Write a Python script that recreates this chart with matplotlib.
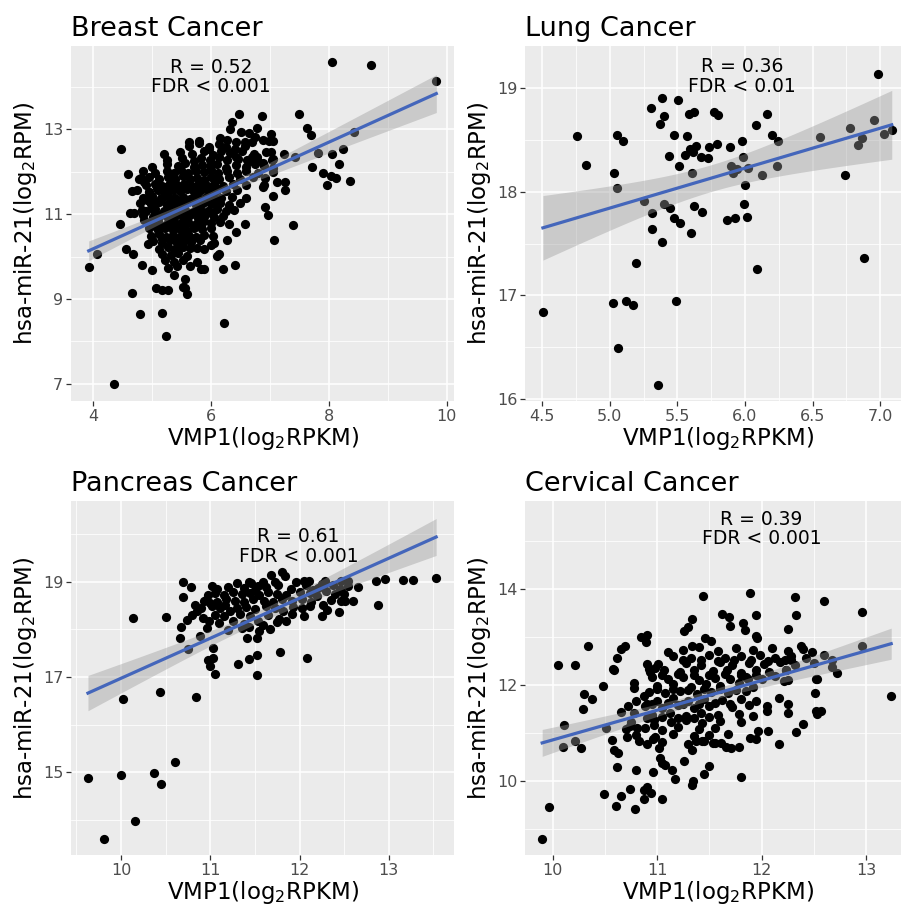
import numpy as np
import matplotlib
matplotlib.use("Agg")
import matplotlib.pyplot as plt
from matplotlib.ticker import MultipleLocator, FormatStrFormatter

# ---- data (x = VMP1 log2RPKM, y = hsa-miR-21 log2RPM) ----
breast_points = [
    (8.06, 14.58), (8.72, 14.51), (9.82, 14.15), (7.50, 13.36), (7.63, 13.04), (7.69, 12.87),
    (8.43, 12.93), (8.24, 12.54), (8.05, 12.43), (7.82, 12.44), (7.43, 12.36), (7.24, 12.41),
    (8.17, 12.18), (7.72, 12.11), (7.90, 11.97), (8.04, 11.91), (8.12, 11.85), (7.97, 11.69),
    (8.36, 11.78), (7.40, 10.74), (4.48, 12.53), (4.60, 11.94), (4.67, 11.55), (5.21, 12.43),
    (4.81, 11.86), (6.47, 13.37), (6.87, 13.31), (6.35, 13.17), (6.32, 13.00), (6.51, 12.95),
    (6.78, 13.03), (7.02, 12.90), (7.05, 12.73), (7.07, 10.39), (6.91, 11.17), (6.97, 10.97),
    (6.58, 10.77), (6.43, 10.57), (6.41, 9.79), (6.27, 10.38), (6.21, 9.70), (6.22, 8.43),
    (3.93, 9.75), (4.07, 10.07), (4.56, 10.18), (4.68, 10.07), (4.46, 10.76), (4.63, 11.02),
    (4.94, 10.29), (4.83, 9.79), (5.01, 9.68), (4.66, 9.13), (5.07, 9.26), (5.18, 9.21),
    (5.27, 9.22), (4.80, 8.64), (5.18, 8.67), (5.24, 8.13), (4.36, 6.98), (5.56, 9.26),
    (5.59, 9.11), (5.53, 9.29), (5.57, 9.47), (5.37, 9.56), (5.83, 9.70), (5.88, 9.71),
    (5.64, 9.78), (5.76, 9.88), (6.10, 10.01), (6.13, 10.07), (6.06, 10.31), (5.88, 10.18),
    (6.00, 10.28), (5.63, 12.71), (5.80, 12.73), (5.97, 12.59), (6.16, 12.80), (6.27, 12.76),
    (6.41, 12.54), (6.58, 12.71), (6.64, 12.91), (6.69, 12.71), (6.75, 12.83), (6.89, 12.75),
    (6.98, 12.73), (6.42, 12.36), (6.61, 12.28), (6.69, 12.36), (6.78, 12.28), (6.89, 12.20),
    (7.02, 12.47), (7.03, 12.29), (7.06, 12.08), (6.92, 11.85), (7.12, 11.75), (7.26, 11.77),
    (7.26, 11.57), (7.05, 11.43), (6.89, 11.65), (4.86, 11.77), (4.96, 11.53), (5.08, 11.65),
    (4.92, 11.34), (5.00, 11.14), (4.83, 11.10), (4.69, 11.02), (4.86, 10.87),
    # dense core
    (5.63, 12.62), (5.80, 12.68), (5.96, 12.55), (6.13, 12.66), (6.26, 12.58), (6.43, 12.70), (6.58, 12.60),
    (5.48, 12.47), (5.68, 12.42), (5.88, 12.50), (6.03, 12.40), (6.18, 12.48), (6.33, 12.44), (6.53, 12.50),
    (6.73, 12.43), (6.93, 12.47),
    (5.26, 12.28), (5.51, 12.33), (5.71, 12.26), (5.84, 12.32), (5.98, 12.29), (6.14, 12.35), (6.28, 12.27),
    (6.46, 12.31), (6.64, 12.25), (6.78, 12.34), (7.06, 12.30),
    (5.00, 12.12), (5.25, 12.18), (5.45, 12.13), (5.57, 12.20), (5.71, 12.11), (5.85, 12.17), (5.98, 12.14),
    (6.10, 12.19), (6.25, 12.10), (6.43, 12.16), (6.60, 12.12), (6.75, 12.18), (6.90, 12.13),
    (4.85, 12.02), (5.05, 11.97), (5.25, 12.03), (5.38, 11.98), (5.50, 12.04), (5.62, 11.96), (5.75, 12.02),
    (5.88, 11.99), (6.00, 12.05), (6.12, 11.97), (6.28, 12.01), (6.45, 11.98), (6.60, 12.03), (6.80, 11.96),
    (7.05, 12.00),
    (4.78, 11.83), (4.95, 11.88), (5.12, 11.84), (5.28, 11.87), (5.40, 11.82), (5.52, 11.89), (5.64, 11.84),
    (5.76, 11.86), (5.88, 11.81), (6.00, 11.88), (6.14, 11.83), (6.30, 11.87), (6.50, 11.84), (6.72, 11.88),
    (4.90, 11.68), (5.05, 11.72), (5.18, 11.66), (5.30, 11.73), (5.42, 11.69), (5.55, 11.71), (5.68, 11.67),
    (5.80, 11.74), (5.92, 11.68), (6.05, 11.72), (6.20, 11.66), (6.38, 11.71), (6.60, 11.69), (6.90, 11.70),
    (4.75, 11.57), (4.95, 11.53), (5.10, 11.58), (5.22, 11.52), (5.35, 11.56), (5.47, 11.54), (5.60, 11.59),
    (5.72, 11.52), (5.84, 11.56), (5.97, 11.53), (6.10, 11.58), (6.25, 11.54), (6.45, 11.56),
    (4.85, 11.38), (5.00, 11.42), (5.15, 11.37), (5.28, 11.43), (5.40, 11.39), (5.52, 11.41), (5.64, 11.36),
    (5.77, 11.42), (5.90, 11.38), (6.03, 11.43), (6.18, 11.37), (6.35, 11.41), (6.60, 11.39),
    (4.80, 11.27), (4.98, 11.23), (5.12, 11.28), (5.25, 11.22), (5.37, 11.26), (5.50, 11.24), (5.62, 11.29),
    (5.74, 11.22), (5.86, 11.27), (6.00, 11.23), (6.15, 11.26), (6.30, 11.22), (6.50, 11.27),
    (4.90, 11.08), (5.05, 11.12), (5.20, 11.07), (5.32, 11.13), (5.45, 11.09), (5.57, 11.11), (5.70, 11.06),
    (5.82, 11.12), (5.95, 11.08), (6.10, 11.13), (6.25, 11.07), (6.40, 11.10),
    (4.85, 10.97), (5.02, 10.93), (5.15, 10.98), (5.28, 10.92), (5.40, 10.96), (5.53, 10.94), (5.65, 10.99),
    (5.78, 10.92), (5.90, 10.97), (6.05, 10.93), (6.20, 10.96),
    (4.95, 10.78), (5.10, 10.83), (5.25, 10.77), (5.38, 10.82), (5.50, 10.79), (5.62, 10.81), (5.75, 10.76),
    (5.88, 10.83), (6.00, 10.78), (6.15, 10.82), (6.30, 10.77),
    (4.95, 10.67), (5.10, 10.62), (5.22, 10.68), (5.35, 10.63), (5.48, 10.66), (5.60, 10.61), (5.72, 10.68),
    (5.85, 10.64), (6.00, 10.67),
    (4.99, 10.48), (5.12, 10.53), (5.24, 10.47), (5.36, 10.52), (5.49, 10.49), (5.62, 10.54), (5.74, 10.47),
    (5.89, 10.51), (6.04, 10.49),
    (5.02, 10.37), (5.17, 10.33), (5.30, 10.38), (5.42, 10.32), (5.54, 10.36), (5.67, 10.34), (5.82, 10.38),
    (5.12, 10.18), (5.27, 10.22), (5.40, 10.17), (5.52, 10.23), (5.64, 10.19), (5.77, 10.21),
    (5.17, 10.07), (5.32, 10.03), (5.44, 10.08), (5.60, 10.02),
    (5.22, 9.92), (5.37, 9.88), (5.52, 9.93), (5.27, 9.74), (5.42, 9.77),
    (5.08, 11.62), (5.22, 11.63), (5.35, 11.61), (5.47, 11.62), (5.58, 11.63), (5.70, 11.61), (5.82, 11.62),
    (5.95, 11.63), (6.08, 11.61),
    (5.03, 11.32), (5.16, 11.33), (5.30, 11.31), (5.43, 11.32), (5.55, 11.33), (5.68, 11.31), (5.80, 11.32),
    (5.93, 11.33), (6.07, 11.31),
    (5.06, 11.02), (5.18, 11.01), (5.30, 11.03), (5.42, 11.02), (5.54, 11.01), (5.66, 11.03), (5.78, 11.02),
    (5.90, 11.01), (6.02, 11.03),
    (5.05, 10.72), (5.19, 10.71), (5.33, 10.73), (5.45, 10.72), (5.57, 10.71), (5.71, 10.73), (5.83, 10.72),
    (5.17, 10.42), (5.30, 10.43), (5.42, 10.41), (5.54, 10.42), (5.67, 10.43),
]

lung_points = [
    (4.754, 18.54), (4.826, 18.26), (5.028, 18.18), (5.056, 18.04), (5.056, 18.55), (5.098, 18.49),
    (5.305, 18.81), (5.386, 18.91), (5.369, 18.66), (5.404, 18.73), (5.505, 18.89), (5.473, 18.55),
    (5.572, 18.54), (5.438, 18.35), (5.515, 18.25), (5.589, 18.75), (5.619, 18.77), (5.559, 18.36),
    (5.594, 18.41), (5.614, 18.39), (5.636, 18.44), (5.606, 18.18), (5.675, 18.34), (5.727, 18.33),
    (5.730, 18.43), (5.767, 18.77), (5.799, 18.74), (5.789, 18.46), (5.885, 18.43), (5.898, 18.25),
    (5.910, 18.18), (5.937, 18.22), (5.977, 18.49), (5.984, 18.34), (6.021, 18.23), (6.001, 18.07),
    (5.991, 17.88), (6.016, 17.76), (6.083, 18.65), (6.164, 18.75), (6.201, 18.55), (6.241, 18.49),
    (6.236, 18.25), (6.127, 18.16), (6.554, 18.53), (6.737, 18.16), (6.774, 18.62), (6.838, 18.45),
    (6.865, 18.52), (6.954, 18.69), (6.984, 19.14), (7.031, 18.56), (7.085, 18.60), (5.256, 17.91),
    (5.312, 17.80), (5.401, 17.88), (5.443, 17.84), (5.473, 17.75), (5.522, 17.70), (5.619, 17.86),
    (5.685, 17.81), (5.870, 17.73), (5.925, 17.75), (5.312, 17.64), (5.598, 17.60), (5.384, 17.52),
    (5.190, 17.31), (6.091, 17.26), (6.880, 17.36), (4.505, 16.84), (5.021, 16.93), (5.122, 16.95),
    (5.174, 16.91), (5.490, 16.95), (5.063, 16.49), (5.356, 16.13),
]

pancreas_points = [
    (10.13, 18.24), (10.50, 18.26), (10.69, 19.00), (10.78, 18.89), (10.69, 18.68), (10.83, 18.51),
    (10.67, 18.05), (10.66, 17.81), (10.75, 17.59), (10.88, 17.86), (11.03, 17.61), (10.74, 18.19),
    (10.79, 18.31), (10.85, 18.38), (10.92, 18.24), (10.96, 18.03), (10.99, 18.17), (10.93, 18.59),
    (10.98, 18.73), (11.02, 18.90), (11.00, 18.55), (11.11, 18.45), (11.16, 18.52), (11.22, 18.38),
    (11.20, 18.88), (11.30, 18.97), (11.43, 19.00), (11.46, 18.97), (11.53, 18.92), (11.59, 19.00),
    (11.68, 19.15), (11.80, 19.20), (11.84, 19.13), (11.76, 18.94), (11.72, 19.00), (11.96, 18.99),
    (12.05, 19.02), (12.11, 19.02), (12.07, 18.94), (12.15, 18.83), (12.21, 18.87), (12.28, 19.02),
    (12.37, 18.94), (12.46, 19.02), (12.54, 19.02), (12.54, 18.90), (12.65, 18.88), (12.86, 19.02),
    (12.96, 19.06), (13.16, 19.03), (13.27, 19.04), (13.53, 19.08), (12.88, 18.52), (12.26, 18.52),
    (12.31, 18.41), (12.25, 18.28), (12.44, 18.37), (12.46, 18.59), (12.51, 18.60), (11.93, 18.46),
    (11.85, 18.17), (11.82, 18.38), (11.77, 18.21), (11.67, 18.00), (11.59, 18.10), (11.54, 18.17),
    (11.43, 18.05), (11.52, 17.82), (11.41, 17.81), (11.52, 17.47), (11.43, 17.37), (11.31, 17.28),
    (11.03, 17.40), (10.98, 17.35), (11.00, 17.24), (11.05, 17.06), (11.52, 17.05), (11.78, 17.53),
    (12.08, 17.39), (10.02, 16.54), (10.44, 16.68), (10.84, 16.58), (10.61, 15.22), (9.63, 14.87),
    (10.00, 14.94), (10.37, 14.98), (10.45, 14.75), (10.16, 13.98), (9.81, 13.59),
    # dense core
    (11.08, 18.84), (11.38, 18.86), (11.50, 18.82), (11.62, 18.88), (11.90, 18.85),
    (11.05, 18.76), (11.15, 18.72), (11.25, 18.78), (11.35, 18.74), (11.45, 18.77), (11.55, 18.73),
    (11.65, 18.79), (11.75, 18.75), (11.85, 18.72), (12.00, 18.78), (12.12, 18.76), (12.30, 18.80),
    (12.40, 18.74),
    (10.95, 18.62), (11.07, 18.58), (11.18, 18.63), (11.28, 18.60), (11.38, 18.57), (11.48, 18.64),
    (11.60, 18.60), (11.70, 18.58), (11.80, 18.63), (11.92, 18.60), (12.03, 18.64), (12.13, 18.58),
    (12.35, 18.62),
    (10.90, 18.44), (11.02, 18.48), (11.30, 18.45), (11.40, 18.47), (11.50, 18.43), (11.62, 18.48),
    (11.72, 18.44), (12.03, 18.45), (12.12, 18.50),
    (11.05, 18.30), (11.15, 18.27), (11.33, 18.32), (11.45, 18.29), (11.65, 18.30), (11.92, 18.32),
    (12.05, 18.28),
    (11.10, 18.14), (11.25, 18.18), (11.38, 18.12), (11.75, 18.15),
    (11.20, 17.98), (11.35, 18.02), (11.55, 17.97),
    (12.20, 18.70), (12.50, 18.75), (12.60, 18.60), (12.25, 18.95), (12.45, 18.85),
]

cervical_points = [
    (10.05, 12.42), (10.21, 12.43), (10.34, 12.82), (10.59, 12.33), (10.62, 12.58), (10.65, 12.76),
    (10.69, 12.82), (10.85, 13.00), (10.90, 13.05), (10.89, 12.90), (11.10, 12.69), (10.90, 12.44),
    (10.92, 12.34), (10.98, 12.37), (11.01, 12.44), (11.44, 13.86), (11.89, 13.92), (12.32, 13.84),
    (12.60, 13.76), (12.96, 13.52), (12.96, 12.81), (11.62, 13.48), (11.69, 13.42), (11.70, 13.23),
    (11.82, 13.31), (11.84, 13.16), (11.95, 13.47), (11.95, 13.03), (11.96, 12.98), (12.25, 13.17),
    (12.33, 13.47), (11.46, 12.98), (11.33, 13.38), (11.30, 13.21), (11.26, 13.14), (11.33, 12.83),
    (11.52, 12.93), (12.38, 12.83), (12.48, 12.70), (12.28, 12.53), (12.67, 12.53), (12.67, 12.39),
    (12.72, 12.25), (12.53, 12.13), (12.25, 12.11), (12.13, 12.20), (11.87, 12.14),
    (9.90, 8.80), (9.97, 9.47), (10.11, 11.17), (10.10, 10.72), (10.21, 10.83), (10.27, 10.69),
    (10.29, 11.51), (10.30, 11.82), (10.38, 11.72), (10.48, 11.98), (10.51, 11.10), (10.49, 9.73),
    (10.57, 10.85), (10.59, 10.66), (10.63, 10.58), (10.62, 10.29), (10.61, 9.48), (10.65, 9.69),
    (10.74, 9.83), (10.79, 9.41), (10.87, 9.81), (10.90, 9.88), (10.94, 9.76), (10.87, 9.62),
    (11.05, 9.63), (10.80, 10.24), (10.96, 10.19), (10.96, 10.89), (10.71, 10.92), (10.74, 11.15),
    (10.75, 11.23), (10.81, 11.10), (10.83, 10.83), (10.65, 11.44), (10.72, 11.56), (10.78, 11.42),
    (10.80, 11.67), (10.87, 11.78), (10.90, 11.60), (10.97, 11.18), (10.78, 12.05), (10.78, 11.94),
    (10.58, 12.34), (11.02, 10.69), (11.03, 10.49), (11.05, 10.38), (11.08, 10.33), (11.14, 10.24),
    (11.17, 10.05), (11.26, 10.42), (11.33, 10.66), (11.33, 9.93), (11.34, 10.00), (11.45, 10.14),
    (11.50, 10.31), (11.37, 10.83), (11.43, 10.83), (11.53, 10.79), (11.55, 10.80), (11.61, 10.80),
    (11.66, 10.72), (11.71, 10.69), (11.78, 10.72), (11.80, 10.09), (11.89, 10.90), (11.95, 10.87),
    (11.97, 11.04), (12.06, 11.04), (12.17, 10.78), (12.33, 11.03), (12.40, 11.20), (12.52, 11.46),
    (12.53, 11.40), (12.57, 11.46), (12.51, 11.85), (12.52, 12.14), (13.24, 11.77), (12.17, 11.74),
    (12.25, 11.61), (12.25, 11.42), (12.05, 11.56), (12.05, 11.46), (12.21, 12.08), (12.23, 12.31),
    # dense core
    (11.25, 12.74), (11.40, 12.79), (11.58, 12.72), (11.75, 12.77), (11.92, 12.73), (12.10, 12.78),
    (12.25, 12.71), (12.40, 12.76),
    (11.15, 12.62), (11.32, 12.58), (11.50, 12.63), (11.65, 12.57), (11.80, 12.61), (11.98, 12.64),
    (12.13, 12.58), (12.28, 12.62), (12.42, 12.57), (12.60, 12.63),
    (11.28, 12.47), (11.42, 12.43), (11.60, 12.48), (11.72, 12.42), (11.88, 12.46), (12.02, 12.44),
    (12.18, 12.49), (12.32, 12.43), (12.50, 12.47),
    (10.93, 12.28), (11.07, 12.32), (11.22, 12.27), (11.35, 12.33), (11.53, 12.29), (11.67, 12.31),
    (11.80, 12.26), (11.95, 12.32), (12.07, 12.28), (12.23, 12.33),
    (10.95, 12.17), (11.10, 12.13), (11.25, 12.18), (11.40, 12.12), (11.55, 12.16), (11.70, 12.14),
    (11.85, 12.18), (12.00, 12.13),
    (11.00, 11.98), (11.15, 12.03), (11.32, 11.97), (11.47, 12.02), (11.60, 11.99), (11.78, 12.04),
    (11.92, 11.97),
    (10.92, 11.87), (11.08, 11.83), (11.22, 11.88), (11.38, 11.82), (11.52, 11.86), (11.68, 11.84),
    (11.85, 11.88),
    (11.00, 11.68), (11.15, 11.73), (11.30, 11.67), (11.45, 11.72), (11.62, 11.69), (11.80, 11.71),
    (11.95, 11.67),
    (10.88, 11.57), (11.05, 11.53), (11.20, 11.58), (11.35, 11.52), (11.50, 11.56), (11.72, 11.54),
    (11.88, 11.58),
    (10.95, 11.38), (11.12, 11.42), (11.28, 11.37), (11.42, 11.43), (11.58, 11.39), (11.78, 11.41),
    (11.92, 11.37),
    (10.97, 11.27), (11.13, 11.23), (11.28, 11.28), (11.43, 11.22), (11.60, 11.26), (11.80, 11.24),
    (10.70, 11.08), (10.88, 11.12), (11.05, 11.07), (11.20, 11.13), (11.40, 11.09), (11.55, 11.11),
    (10.80, 10.97), (10.98, 10.93), (11.15, 10.98), (11.35, 10.94), (11.50, 10.96), (11.68, 10.99),
    (10.90, 10.78), (11.05, 10.82), (11.30, 10.77), (11.45, 10.83),
    (11.25, 12.52), (11.42, 12.53), (11.58, 12.51), (11.74, 12.52), (11.90, 12.53), (12.06, 12.51),
    (12.22, 12.52),
    (11.05, 12.22), (11.20, 12.23), (11.35, 12.21), (11.50, 12.22), (11.65, 12.23), (11.80, 12.21),
    (11.95, 12.22),
    (11.00, 11.92), (11.15, 11.93), (11.30, 11.91), (11.45, 11.92), (11.60, 11.93), (11.75, 11.91),
    (10.95, 11.62), (11.10, 11.63), (11.25, 11.61), (11.40, 11.62), (11.55, 11.63), (11.70, 11.61),
    (10.90, 11.32), (11.05, 11.33), (11.20, 11.31), (11.35, 11.32), (11.50, 11.33),
]

titles = ["Breast Cancer", "Lung Cancer", "Pancreas Cancer", "Cervical Cancer"]
r_labels = ["R = 0.52", "R = 0.36", "R = 0.61", "R = 0.39"]
fdr_labels = ["FDR < 0.001", "FDR < 0.01", "FDR < 0.001", "FDR < 0.001"]

# ---- layout (figure fractions) and per-panel scales ----
panels = [
    dict(pts=breast_points, rect=[0.0788, 0.5569, 0.4251, 0.3923],
         xlim=(3.63, 10.12), ylim=(6.59, 14.97), xmaj=2, ymaj=2, ybase=7,
         text_xy=(6.0, 14.24)),
    dict(pts=lung_points, rect=[0.5832, 0.5569, 0.4268, 0.3923],
         xlim=(4.376, 7.22), ylim=(15.98, 19.41), xmaj=0.5, ymaj=1, ybase=16,
         text_xy=(5.98, 19.115)),
    dict(pts=pancreas_points, rect=[0.0788, 0.0552, 0.4251, 0.3915],
         xlim=(9.44, 13.73), ylim=(13.26, 20.70), xmaj=1, ymaj=2, ybase=15,
         text_xy=(11.99, 19.74)),
    dict(pts=cervical_points, rect=[0.5832, 0.0552, 0.4268, 0.3915],
         xlim=(9.74, 13.42), ylim=(8.46, 15.85), xmaj=1, ymaj=2, ybase=10,
         text_xy=(12.0, 15.26)),
]

BG = "#EBEBEB"


def t975(df):
    z = 1.959964
    return z + (z**3 + z) / (4 * df) + (5 * z**5 + 16 * z**3 + 3 * z) / (96 * df**2)


def draw_panel(fig, cfg, title, r_lab, fdr_lab):
    ax = fig.add_axes(cfg["rect"])
    ax.set_facecolor(BG)
    for s in ax.spines.values():
        s.set_visible(False)

    x = np.array([p[0] for p in cfg["pts"]])
    y = np.array([p[1] for p in cfg["pts"]])

    ax.scatter(x, y, s=44, color="black", linewidths=0, zorder=3)

    # lm fit with 95% confidence band, like geom_smooth(method = "lm")
    n = len(x)
    slope, intercept = np.polyfit(x, y, 1)
    resid = y - (intercept + slope * x)
    s_err = np.sqrt(np.sum(resid**2) / (n - 2))
    sxx = np.sum((x - x.mean())**2)
    xs = np.linspace(x.min(), x.max(), 80)
    fit = intercept + slope * xs
    half = t975(n - 2) * s_err * np.sqrt(1 / n + (xs - x.mean())**2 / sxx)
    ax.fill_between(xs, fit - half, fit + half, color="#999999", alpha=0.4,
                    linewidth=0, zorder=4)
    ax.plot(xs, fit, color="#4466BB", lw=2.3, zorder=5)

    ax.set_xlim(*cfg["xlim"])
    ax.set_ylim(*cfg["ylim"])
    ax.xaxis.set_major_locator(MultipleLocator(cfg["xmaj"]))
    ax.xaxis.set_minor_locator(MultipleLocator(cfg["xmaj"] / 2))
    ax.yaxis.set_major_locator(MultipleLocator(cfg["ymaj"], offset=cfg["ybase"] % cfg["ymaj"]))
    ax.yaxis.set_minor_locator(MultipleLocator(cfg["ymaj"] / 2))
    if cfg["xmaj"] == 0.5:
        ax.xaxis.set_major_formatter(FormatStrFormatter("%.1f"))

    ax.grid(which="major", color="white", lw=1.1, zorder=0)
    ax.grid(which="minor", color="white", lw=0.55, zorder=0)
    ax.set_axisbelow(True)
    ax.tick_params(which="major", length=3.5, width=0.9, color="#333333",
                   labelcolor="#4D4D4D", labelsize=11.5, pad=2)
    ax.tick_params(which="minor", length=0)

    ax.set_xlabel("VMP1(log$_2$RPKM)", fontsize=16.5, labelpad=1)
    ax.set_ylabel("hsa-miR-21(log$_2$RPM)", fontsize=16.5, labelpad=3)
    ax.set_title(title, loc="left", fontsize=19.5, pad=7)

    tx, ty = cfg["text_xy"]
    ax.text(tx, ty, r_lab + "\n" + fdr_lab, ha="center", va="center",
            fontsize=13.5, linespacing=1.05, zorder=6)
    return ax


fig = plt.figure(figsize=(9.01, 9.05), dpi=100)
fig.patch.set_facecolor("white")
for cfg, t, r, f in zip(panels, titles, r_labels, fdr_labels):
    draw_panel(fig, cfg, t, r, f)

fig.savefig("out.png", dpi=100)
